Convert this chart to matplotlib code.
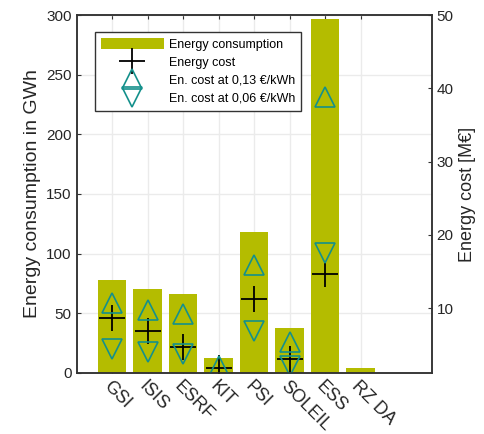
import numpy as np
import matplotlib
matplotlib.use('Agg')
import matplotlib.pyplot as plt

plt.rcParams['font.family'] = ['Liberation Sans', 'DejaVu Sans']

# facilities and values
facilities = ['GSI', 'ISIS', 'ESRF', 'KIT', 'PSI', 'SOLEIL', 'ESS', 'RZ DA']
consumption = [78, 70.6, 66.4, 12.3, 118.5, 37.8, 296.6, 3.9]     # GWh
cost = [8.7, 6.9, 4.66, 1.8, 11.2, 3.03, 14.7, 0.43]               # M EUR
cost_high = [10.7, 9.7, 9.17, 2.07, 15.85, 5.4, 38.8, 0.51]        # at 0.13 EUR/kWh
cost_low = [4.43, 4.02, 3.68, 0.72, 6.8, 2.02, 17.5, 0.23]         # at 0.06 EUR/kWh

bar_col = '#b4bc00'
tri_col = '#14908b'
ax_col = '#333333'

fig = plt.figure(figsize=(4.85, 4.34), dpi=100)
ax1 = fig.add_axes([0.158, 0.1406, 0.732, 0.8248])
x = np.arange(1, len(facilities) + 1)

bars = ax1.bar(x, consumption, width=0.8, color=bar_col, zorder=2,
               label='Energy consumption')
ax1.set_xlim(0, 10)
ax1.set_ylim(0, 300)
ax1.set_yticks(np.arange(0, 301, 50))
ax1.set_xticks(x)
ax1.set_xticklabels(facilities, rotation=-45, ha='left', va='top',
                    rotation_mode='anchor', fontsize=13)
ax1.grid(True, color='#ebebeb', lw=1.0)
ax1.set_axisbelow(True)
ax1.set_ylabel('Energy consumption in GWh', fontsize=14, color='#262626')
ax1.tick_params(axis='both', direction='in', length=3, color=ax_col,
                labelcolor='#262626', top=True, right=True)
ax1.tick_params(axis='y', labelsize=11)

# cost axis
ax2 = ax1.twinx()
ylo = 1.13
ax2.set_ylim(ylo, 50)
ax2.set_yticks([10, 20, 30, 40, 50])
ax2.tick_params(axis='y', direction='in', length=3, color=ax_col,
                labelcolor='#262626', labelsize=11)
ax2.set_ylabel('Energy cost [M€]', fontsize=13, color='#262626')

# points below the axis limit are not drawn (as in the original)
def visible(vals):
    v = np.array(vals, dtype=float)
    return np.where(v >= ylo, v, np.nan)

h_cost, = ax2.plot(x, visible(cost), ls='none', marker='+', ms=18.5,
                   mew=1.3, color='black', label='Energy cost')
h_hi, = ax2.plot(x, visible(cost_high), ls='none', marker='^', ms=14,
                 mfc='none', mec=tri_col, mew=1.2,
                 label='En. cost at 0,13 €/kWh')
h_lo, = ax2.plot(x, visible(cost_low), ls='none', marker='v', ms=14,
                 mfc='none', mec=tri_col, mew=1.2,
                 label='En. cost at 0,06 €/kWh')

for ax in (ax1, ax2):
    for s in ax.spines.values():
        s.set_color(ax_col)
        s.set_linewidth(1.1)

leg = ax2.legend([bars, h_cost, h_hi, h_lo],
                 ['Energy consumption', 'Energy cost',
                  'En. cost at 0,13 €/kWh', 'En. cost at 0,06 €/kWh'],
                 loc='upper left', bbox_to_anchor=(0.0515, 0.9525),
                 borderaxespad=0, fontsize=9, fancybox=False,
                 edgecolor=ax_col, framealpha=1, handlelength=5.0,
                 handleheight=1.0, handletextpad=0.4, labelspacing=0.4,
                 borderpad=0.5)
leg.get_frame().set_linewidth(1.0)

plt.savefig('out.png', dpi=100)
